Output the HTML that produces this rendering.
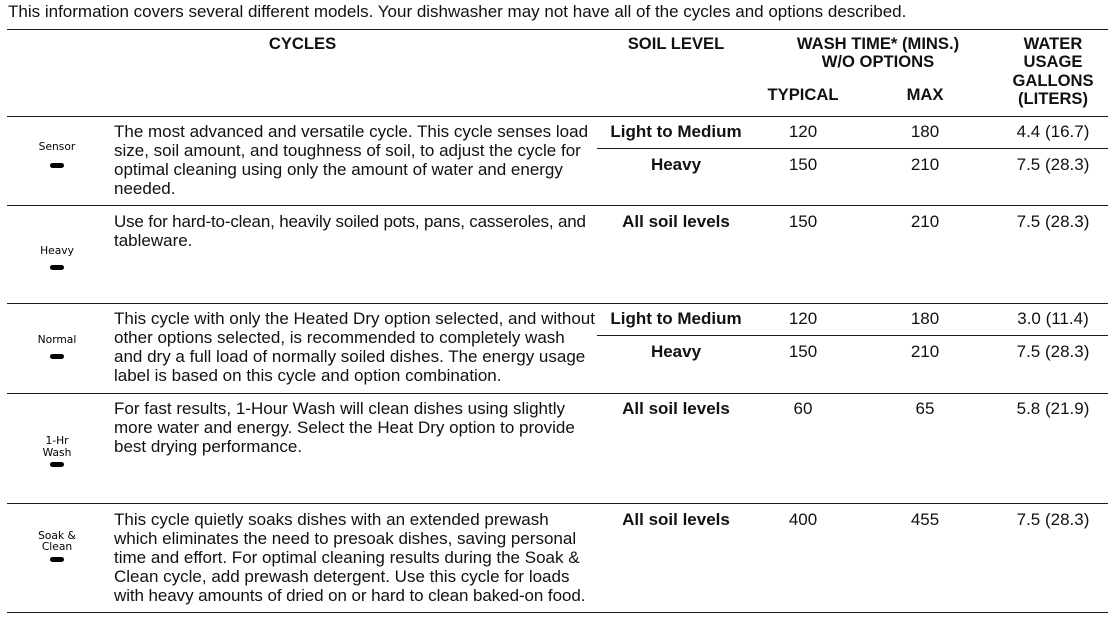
<!DOCTYPE html>
<html>
<head>
<meta charset="utf-8">
<style>
  html, body { margin:0; padding:0; background:#fff; }
  body { width:1117px; height:620px; position:relative; overflow:hidden;
         font-family:"Liberation Sans", Arial, sans-serif; color:#111; }
  .t { position:absolute; white-space:nowrap; font-size:17px; line-height:19px; }
  .c { text-align:center; width:240px; }
  .b { font-weight:bold; }
  .h { position:absolute; white-space:nowrap; font-weight:bold; font-size:16.6px; line-height:18.3px; text-align:center; width:240px; }
  .ln { position:absolute; height:1.4px; background:#1a1a1a; }
  .ic { position:absolute; left:17px; width:80px; text-align:center; white-space:nowrap;
        font-family:"DejaVu Sans", sans-serif; font-size:10.7px; line-height:11.5px; color:#000; }
  .dash { position:absolute; left:50px; width:14px; height:5px; border-radius:2.5px; background:#000; }
</style>
</head>
<body>

<div class="t" style="left:8px;top:2.3px;">This information covers several different models. Your dishwasher may not have all of the cycles and options described.</div>

<!-- horizontal rules -->
<div class="ln" style="left:7px;width:1101px;top:28.5px;"></div>
<div class="ln" style="left:7px;width:1101px;top:116px;"></div>
<div class="ln" style="left:7px;width:1101px;top:205px;"></div>
<div class="ln" style="left:7px;width:1101px;top:303px;"></div>
<div class="ln" style="left:7px;width:1101px;top:393px;"></div>
<div class="ln" style="left:7px;width:1101px;top:502.5px;"></div>
<div class="ln" style="left:7px;width:1101px;top:611.5px;"></div>
<div class="ln" style="left:597px;width:511px;top:147.8px;"></div>
<div class="ln" style="left:597px;width:511px;top:335px;"></div>

<!-- headers -->
<div class="h" style="left:182.5px;top:35.1px;">CYCLES</div>
<div class="h" style="left:556px;top:35.1px;">SOIL LEVEL</div>
<div class="h" style="left:758px;top:35.1px;">WASH TIME* (MINS.)<br>W/O OPTIONS</div>
<div class="h" style="left:683px;top:86.1px;">TYPICAL</div>
<div class="h" style="left:805px;top:86.1px;">MAX</div>
<div class="h" style="left:933px;top:35.1px;">WATER<br>USAGE<br>GALLONS<br>(LITERS)</div>

<!-- icons -->
<div class="ic" style="top:141.2px;">Sensor</div>
<div class="dash" style="top:162.5px;"></div>

<div class="ic" style="top:245.2px;">Heavy</div>
<div class="dash" style="top:264.5px;"></div>

<div class="ic" style="top:334.2px;">Normal</div>
<div class="dash" style="top:353.5px;"></div>

<div class="ic" style="top:435px;">1-Hr<br>Wash</div>
<div class="dash" style="top:462px;"></div>

<div class="ic" style="top:529.5px;">Soak &amp;<br>Clean</div>
<div class="dash" style="top:556.5px;"></div>

<!-- descriptions -->
<div class="t" style="left:114px;top:121.6px;">The most advanced and versatile cycle. This cycle senses load<br>size, soil amount, and toughness of soil, to adjust the cycle for<br>optimal cleaning using only the amount of water and energy<br>needed.</div>
<div class="t" style="left:114px;top:211.6px;"><span style="letter-spacing:-0.17px;">Use for hard-to-clean, heavily soiled pots, pans, casseroles, and</span><br>tableware.</div>
<div class="t" style="left:114px;top:308.6px;">This cycle with only the Heated Dry option selected, and without<br>other options selected, is recommended to completely wash<br>and dry a full load of normally soiled dishes. The energy usage<br>label is based on this cycle and option combination.</div>
<div class="t" style="left:114px;top:398.6px;">For fast results, 1-Hour Wash will clean dishes using slightly<br>more water and energy. Select the Heat Dry option to provide<br>best drying performance.</div>
<div class="t" style="left:114px;top:509.6px;">This cycle quietly soaks dishes with an extended prewash<br>which eliminates the need to presoak dishes, saving personal<br>time and effort. For optimal cleaning results during the Soak &amp;<br>Clean cycle, add prewash detergent. Use this cycle for loads<br><span style="letter-spacing:-0.08px;">with heavy amounts of dried on or hard to clean baked-on food.</span></div>

<!-- row 1 -->
<div class="t c b" style="left:556px;top:121.6px;">Light to Medium</div>
<div class="t c" style="left:683px;top:121.6px;">120</div>
<div class="t c" style="left:805px;top:121.6px;">180</div>
<div class="t c" style="left:933px;top:121.6px;">4.4 (16.7)</div>

<div class="t c b" style="left:556px;top:154.6px;">Heavy</div>
<div class="t c" style="left:683px;top:154.6px;">150</div>
<div class="t c" style="left:805px;top:154.6px;">210</div>
<div class="t c" style="left:933px;top:154.6px;">7.5 (28.3)</div>

<!-- row 2 -->
<div class="t c b" style="left:556px;top:211.6px;">All soil levels</div>
<div class="t c" style="left:683px;top:211.6px;">150</div>
<div class="t c" style="left:805px;top:211.6px;">210</div>
<div class="t c" style="left:933px;top:211.6px;">7.5 (28.3)</div>

<!-- row 3 -->
<div class="t c b" style="left:556px;top:308.6px;">Light to Medium</div>
<div class="t c" style="left:683px;top:308.6px;">120</div>
<div class="t c" style="left:805px;top:308.6px;">180</div>
<div class="t c" style="left:933px;top:308.6px;">3.0 (11.4)</div>

<div class="t c b" style="left:556px;top:341.6px;">Heavy</div>
<div class="t c" style="left:683px;top:341.6px;">150</div>
<div class="t c" style="left:805px;top:341.6px;">210</div>
<div class="t c" style="left:933px;top:341.6px;">7.5 (28.3)</div>

<!-- row 4 -->
<div class="t c b" style="left:556px;top:398.6px;">All soil levels</div>
<div class="t c" style="left:683px;top:398.6px;">60</div>
<div class="t c" style="left:805px;top:398.6px;">65</div>
<div class="t c" style="left:933px;top:398.6px;">5.8 (21.9)</div>

<!-- row 5 -->
<div class="t c b" style="left:556px;top:509.6px;">All soil levels</div>
<div class="t c" style="left:683px;top:509.6px;">400</div>
<div class="t c" style="left:805px;top:509.6px;">455</div>
<div class="t c" style="left:933px;top:509.6px;">7.5 (28.3)</div>

</body>
</html>
